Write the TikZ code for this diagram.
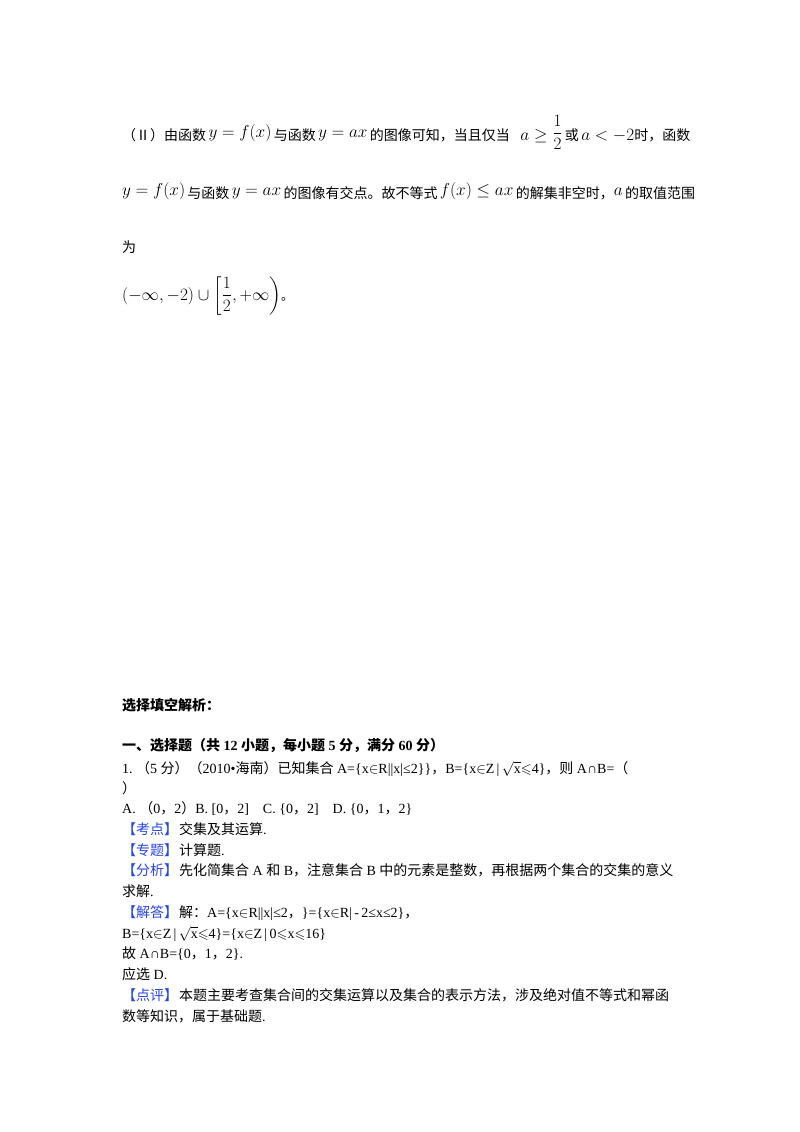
\documentclass[tikz,border=0pt]{standalone}
\usepackage{amsmath,amssymb}
\usepackage{fontspec}
\setmainfont{Liberation Serif}
\newfontfamily\cjk{Noto Sans CJK SC}
\newcommand{\zh}[1]{{\cjk #1}}
\definecolor{kblue}{RGB}{40,70,230}
\newcommand{\ktag}[1]{\textcolor{kblue}{\zh{【#1】}}\kern1pt}
\newcommand{\lsl}{$\leqslant$}
\newcommand{\inn}{$\in$}
\begin{document}
\begin{tikzpicture}[x=1pt,y=1pt,
  ln/.style={anchor=base west,inner sep=0pt,font=\fontsize{14}{16}\selectfont},
  mln/.style={anchor=base west,inner sep=0pt,font=\fontsize{16}{18}\selectfont}]
\useasboundingbox (0,0) rectangle (800,-1132);
\fill[white] (0,0) rectangle (800,-1132);
\node[ln] (l1) at (122,-140) {\zh{（Ⅱ）由函数}\,\raisebox{3pt}{\fontsize{16}{18}\selectfont$y=f(x)$}\,\zh{与函数}\,\raisebox{3pt}{\fontsize{16}{18}\selectfont$y=ax$}\,\zh{的图像可知，当且仅当}\ \ \ {\fontsize{16}{18}\selectfont$a\geq\raisebox{2pt}{$\dfrac{1}{2}$}$}\,\zh{或}\,{\fontsize{16}{18}\selectfont$a<-2$}\zh{时，函数}};
\node[ln] (l2) at (122,-198) {\raisebox{3pt}{\fontsize{16}{18}\selectfont$y=f(x)$}\,\zh{与函数}\,\raisebox{3pt}{\fontsize{16}{18}\selectfont$y=ax$}\,\zh{的图像有交点。故不等式}\,\raisebox{3pt}{\fontsize{16}{18}\selectfont$f(x)\leq ax$}\,\zh{的解集非空时，}\raisebox{3pt}{\fontsize{16}{18}\selectfont$a$}\,\zh{的取值范围}};
\node[ln] (l3) at (122,-252) {\zh{为}};
\node[mln] (l4) at (122,-300) {$(-\infty,-2)\cup\left[\dfrac{1}{2},+\infty\right)$\zh{\fontsize{12}{14}\selectfont 。}};
\node[ln] (h1) at (122,-710) {\zh{\bfseries 选择填空解析：}};
\node[ln] (h2) at (122,-750) {\zh{\bfseries 一、选择题（共} \textbf{12} \zh{\bfseries 小题，每小题} \textbf{5} \zh{\bfseries 分，满分} \textbf{60} \zh{\bfseries 分）}};
\node[ln] (q1) at (122,-773) {1.\ \zh{（}5 \zh{分）（}2010•\zh{海南）已知集合} A=\{x\inn R||x|≤2\}\}\zh{，}B=\{x\inn Z\,|\,$\sqrt{\mathrm{x}}$\lsl4\}\zh{，则} A∩B=\zh{（}};
\node[ln] (q2) at (122,-793) {\zh{）}};
\node[ln] (q3) at (122,-813) {A.\ \zh{（}0\zh{，}2\zh{）}B.\ [0\zh{，}2]\quad C.\ \{0\zh{，}2]\quad D.\ \{0\zh{，}1\zh{，}2\}};
\node[ln] (k1) at (122,-834) {\ktag{考点}\zh{交集及其运算}.};
\node[ln] (k2) at (122,-855) {\ktag{专题}\zh{计算题}.};
\node[ln] (k3) at (122,-875) {\ktag{分析}\zh{先化简集合} A \zh{和} B\zh{，注意集合} B \zh{中的元素是整数，再根据两个集合的交集的意义}};
\node[ln] (k4) at (122,-896) {\zh{求解}.};
\node[ln] (k5) at (122,-917) {\ktag{解答}\zh{解：}A=\{x\inn R||x|≤2\zh{，}\}=\{x\inn R|\,-\,2≤x≤2\}\zh{，}};
\node[ln] (k6) at (122,-938) {B=\{x\inn Z\,|\,$\sqrt{\mathrm{x}}$\lsl4\}=\{x\inn Z\,|\,0\lsl x\lsl16\}};
\node[ln] (k7) at (122,-958) {\zh{故} A∩B=\{0\zh{，}1\zh{，}2\}.};
\node[ln] (k8) at (122,-979) {\zh{应选} D.};
\node[ln] (k9) at (122,-1000) {\ktag{点评}\zh{本题主要考查集合间的交集运算以及集合的表示方法，涉及绝对值不等式和幂函}};
\node[ln] (k10) at (122,-1021) {\zh{数等知识，属于基础题}.};
\end{tikzpicture}
\end{document}
